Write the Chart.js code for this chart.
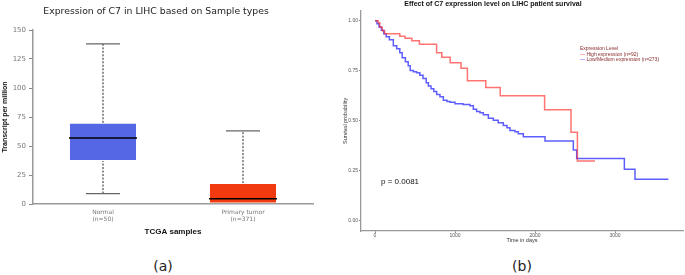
<!DOCTYPE html>
<html>
<head>
<meta charset="utf-8">
<script src="https://cdn.jsdelivr.net/npm/chart.js@4"></script>
<style>
  body { margin: 0; background: #fff; }
  #page { position: relative; width: 685px; height: 275px; overflow: hidden; }
  .box { position: absolute; top: 0; height: 245px; }
  .txt { position: absolute; white-space: nowrap; }
</style>
</head>
<body>
<div id="page">
  <div class="box" style="left:0;width:340px"><canvas id="boxChart"></canvas></div>
  <div class="box" style="left:340px;width:345px"><canvas id="kmChart"></canvas></div>

  <div class="txt" style="left:0;width:312px;top:5px;text-align:center;font:9.3px 'DejaVu Sans';color:#222">Expression of C7 in LIHC based on Sample types</div>
  <div class="txt" style="left:393px;width:200px;top:0;text-align:center;font:bold 7px 'Liberation Sans';color:#111">Effect of C7 expression level on LIHC patient survival</div>

  <div class="txt" style="left:580px;top:46px;font:5px 'Liberation Sans';color:#8a2a2a;line-height:5.5px">
    Expression Level<br>
    <span style="color:#f33">&#8212;</span> High expression (n=92)<br>
    <span style="color:#33f">&#8212;</span> Low/Medium expression (n=273)
  </div>
  <div class="txt" style="left:381px;top:177px;font:8px 'Liberation Sans';color:#111">p = 0.0081</div>

  <div class="txt" style="left:140px;width:46px;top:258px;text-align:center;font:14px 'DejaVu Sans';color:#222">(a)</div>
  <div class="txt" style="left:499px;width:46px;top:258px;text-align:center;font:14px 'DejaVu Sans';color:#222">(b)</div>
</div>

<script>
// (a) box plot values, TPM
const groups = ["Normal", "Primary tumor"];
const counts = ["(n=50)", "(n=371)"];
const q1 = [37, 0];
const q3 = [70, 18];
const median = [57, 4.5];
const lower = [9, 0];
const upper = [138, 63];
const boxColors = ["#5567e4", "#f13a10"];
const tpmTicks = [0, 25, 50, 75, 100, 125, 150];

// (b) Kaplan-Meier curves
const highDays = [0, 40, 60, 90, 120, 310, 375, 460, 555, 770, 835, 940, 1075, 1155, 1385, 1565, 2120, 2450, 2530, 2750];
const highSurv = [1.0, 0.99, 0.967, 0.95, 0.935, 0.923, 0.912, 0.90, 0.883, 0.84, 0.817, 0.79, 0.763, 0.70, 0.667, 0.625, 0.555, 0.443, 0.30, 0.30];
const lowDays = [0, 25, 50, 80, 110, 140, 180, 229, 271, 310, 340, 380, 415, 440, 480, 520, 560, 600, 640, 667, 700, 735, 771, 812, 854, 900, 937, 1000, 1100, 1187, 1229, 1270, 1312, 1354, 1417, 1479, 1540, 1604, 1650, 1687, 1750, 1791, 1854, 2125, 2479, 2521, 3117, 3250, 3667];
const lowSurv = [1.0, 0.985, 0.968, 0.952, 0.935, 0.92, 0.905, 0.875, 0.86, 0.84, 0.815, 0.795, 0.775, 0.752, 0.745, 0.74, 0.728, 0.712, 0.69, 0.674, 0.66, 0.647, 0.632, 0.62, 0.603, 0.597, 0.593, 0.586, 0.582, 0.575, 0.558, 0.547, 0.54, 0.53, 0.513, 0.503, 0.49, 0.477, 0.465, 0.452, 0.445, 0.435, 0.42, 0.40, 0.355, 0.312, 0.258, 0.208, 0.208];
const dayTicks = [0, 1000, 2000, 3000];
const survTicks = [0, 0.25, 0.5, 0.75, 1.0];

// whiskers, caps and medians on top of the floating bars
const whiskers = {
  id: "whiskers",
  afterDatasetsDraw(chart) {
    const ctx = chart.ctx;
    const y = chart.scales.y;
    const seg = (x1, y1, x2, y2) => { ctx.beginPath(); ctx.moveTo(x1, y1); ctx.lineTo(x2, y2); ctx.stroke(); };
    chart.getDatasetMeta(0).data.forEach((bar, i) => {
      const x = bar.x, half = bar.width / 2;
      ctx.save();
      ctx.setLineDash([2, 1.5]);
      ctx.strokeStyle = "#222";
      ctx.lineWidth = 1;
      seg(x, y.getPixelForValue(q3[i]), x, y.getPixelForValue(upper[i]));
      seg(x, y.getPixelForValue(lower[i]), x, y.getPixelForValue(q1[i]));
      ctx.setLineDash([]);
      ctx.strokeStyle = "#666";
      ctx.lineWidth = 1.3;
      seg(x - half / 2, y.getPixelForValue(upper[i]), x + half / 2, y.getPixelForValue(upper[i]));
      if (lower[i] < q1[i]) {
        seg(x - half / 2, y.getPixelForValue(lower[i]), x + half / 2, y.getPixelForValue(lower[i]));
      }
      ctx.strokeStyle = "#000";
      ctx.lineWidth = 1.5;
      seg(x - half, y.getPixelForValue(median[i]), x + half, y.getPixelForValue(median[i]));
      ctx.restore();
    });
  }
};

new Chart(document.getElementById("boxChart"), {
  type: "bar",
  data: {
    labels: groups.map((g, i) => [g, counts[i]]),
    datasets: [{
      data: q1.map((v, i) => [v, q3[i]]),
      backgroundColor: boxColors,
      borderColor: "rgba(255,255,255,0.35)",
      borderWidth: 1,
      borderSkipped: false,
      categoryPercentage: 1,
      barPercentage: 0.486,
    }],
  },
  options: {
    responsive: true,
    maintainAspectRatio: false,
    animation: false,
    layout: { padding: { top: 30, right: 27, left: 0, bottom: 0 } },
    plugins: { legend: { display: false }, tooltip: { enabled: false } },
    scales: {
      x: {
        afterFit: (s) => { s.height = 41; },
        grid: { display: false, drawTicks: false },
        border: { color: "#999", width: 1.5 },
        ticks: { color: "#777", font: { family: "DejaVu Sans", size: 6 }, padding: 5, maxRotation: 0 },
        title: { display: true, text: "TCGA samples", color: "#111", font: { family: "Liberation Sans", size: 8, weight: "bold" }, padding: { top: 0, bottom: 8 } },
      },
      y: {
        min: 0,
        max: 150,
        afterFit: (s) => { s.width = 33; },
        afterBuildTicks: (s) => { s.ticks = tpmTicks.map((v) => ({ value: v })); },
        grid: { drawOnChartArea: false, tickLength: 4, color: "#888" },
        border: { color: "#999", width: 1.5 },
        ticks: { color: "#777", font: { family: "DejaVu Sans", size: 7 }, padding: 3 },
        title: { display: true, text: "Transcript per million", color: "#111", font: { family: "Liberation Sans", size: 7, weight: "bold" }, padding: { top: 1, bottom: 0 } },
      },
    },
  },
  plugins: [whiskers],
});

new Chart(document.getElementById("kmChart"), {
  type: "scatter",
  data: {
    datasets: [
      {
        label: "High expression (n=92)",
        data: highDays.map((d, i) => ({ x: d, y: highSurv[i] })),
        showLine: true,
        stepped: true,
        borderColor: "rgba(255,40,40,0.65)",
        borderWidth: 1.5,
        pointRadius: 0,
      },
      {
        label: "Low/Medium expression (n=273)",
        data: lowDays.map((d, i) => ({ x: d, y: lowSurv[i] })),
        showLine: true,
        stepped: true,
        borderColor: "rgba(40,40,255,0.75)",
        borderWidth: 1.5,
        pointRadius: 0,
      },
    ],
  },
  options: {
    responsive: true,
    maintainAspectRatio: false,
    animation: false,
    layout: { padding: { top: 10.7, right: 2, left: 0, bottom: 0 } },
    plugins: { legend: { display: false }, tooltip: { enabled: false } },
    scales: {
      x: {
        min: -175,
        max: 3850,
        afterFit: (s) => { s.height = 14; },
        afterBuildTicks: (s) => { s.ticks = dayTicks.map((v) => ({ value: v })); },
        grid: { drawOnChartArea: false, tickLength: 2, color: "#888" },
        border: { color: "#999", width: 1.3 },
        ticks: { color: "#555", font: { family: "Liberation Sans", size: 5 }, padding: 0, maxRotation: 0, callback: (v) => String(v) },
        title: { display: true, text: "Time in days", color: "#333", font: { family: "Liberation Sans", size: 5.5 }, padding: { top: 0, bottom: 1.5 } },
      },
      y: {
        min: -0.05,
        max: 1.05,
        afterFit: (s) => { s.width = 21; },
        afterBuildTicks: (s) => { s.ticks = survTicks.map((v) => ({ value: v })); },
        grid: { drawOnChartArea: false, tickLength: 2, color: "#888" },
        border: { color: "#999", width: 1.3 },
        ticks: { color: "#555", font: { family: "Liberation Sans", size: 5 }, padding: 1, callback: (v) => v.toFixed(2) },
        title: { display: true, text: "Survival probability", color: "#333", font: { family: "Liberation Sans", size: 5.5 }, padding: { top: 2, bottom: 0 } },
      },
    },
  },
});
</script>
</body>
</html>
